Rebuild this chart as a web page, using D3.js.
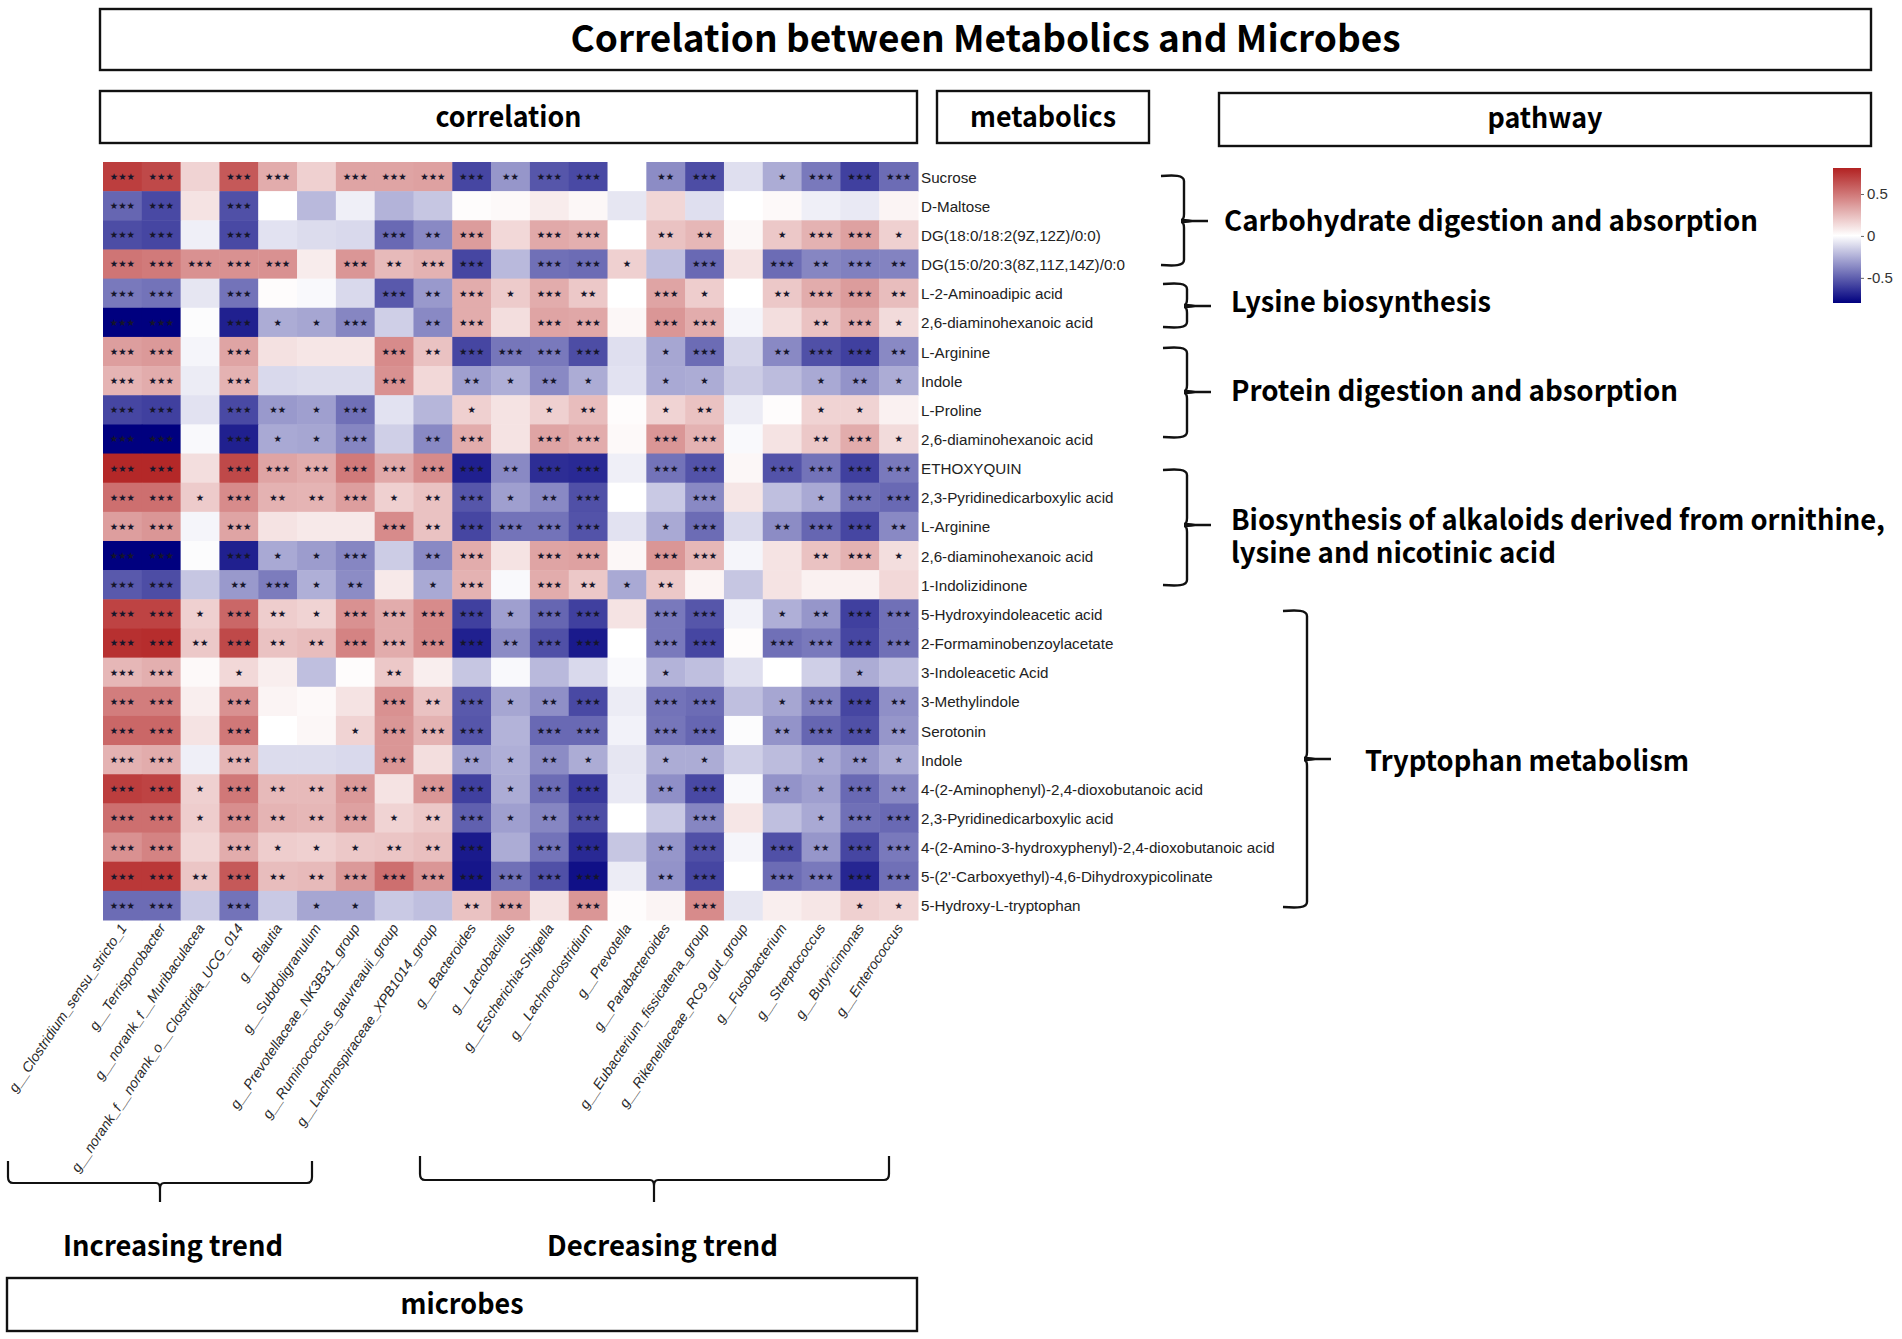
<!DOCTYPE html>
<html><head><meta charset="utf-8">
<script src="https://cdnjs.cloudflare.com/ajax/libs/d3/7.8.5/d3.min.js"></script>
<style>html,body{margin:0;background:#fff}svg{display:block}</style></head><body>
<svg id="c" width="1902" height="1339"></svg>
<script>
const microbes=["g__Clostridium_sensu_stricto_1","g__Terrisporobacter","g__norank_f__Muribaculacea","g__norank_f__norank_o__Clostridia_UCG_014","g__Blautia","g__Subdoligranulum","g__Prevotellaceae_NK3B31_group","g__Ruminococcus_gauvreauii_group","g__Lachnospiraceae_XPB1014_group","g__Bacteroides","g__Lactobacillus","g__Escherichia-Shigella","g__Lachnoclostridium","g__Prevotella","g__Parabacteroides","g__Eubacterium_fissicatena_group","g__Rikenellaceae_RC9_gut_group","g__Fusobacterium","g__Streptococcus","g__Butyricimonas","g__Enterococcus"];
const metabolites=["Sucrose","D-Maltose","DG(18:0/18:2(9Z,12Z)/0:0)","DG(15:0/20:3(8Z,11Z,14Z)/0:0","L-2-Aminoadipic acid","2,6-diaminohexanoic acid","L-Arginine","Indole","L-Proline","2,6-diaminohexanoic acid","ETHOXYQUIN","2,3-Pyridinedicarboxylic acid","L-Arginine","2,6-diaminohexanoic acid","1-Indolizidinone","5-Hydroxyindoleacetic acid","2-Formaminobenzoylacetate","3-Indoleacetic Acid","3-Methylindole","Serotonin","Indole","4-(2-Aminophenyl)-2,4-dioxobutanoic acid","2,3-Pyridinedicarboxylic acid","4-(2-Amino-3-hydroxyphenyl)-2,4-dioxobutanoic acid","5-(2'-Carboxyethyl)-4,6-Dihydroxypicolinate","5-Hydroxy-L-tryptophan"];
const correlation=[
[.70,.66,.16,.60,.30,.17,.33,.33,.34,-.58,-.33,-.53,-.57,0,-.36,-.56,-.10,-.26,-.42,-.60,-.46],
[-.48,-.57,.10,-.55,0,-.22,-.05,-.24,-.18,.01,.02,.07,.03,-.08,.15,-.10,0,.02,-.05,-.07,.04],
[-.56,-.58,-.05,-.57,-.09,-.11,-.12,-.47,-.37,.36,.14,.31,.29,0,.22,.26,.03,.20,.28,.34,.17],
[.50,.48,.40,.40,.40,.07,.38,.25,.28,-.58,-.22,-.45,-.46,.17,-.20,-.47,.10,-.46,-.38,-.40,-.39],
[-.42,-.44,-.08,-.44,.01,-.02,-.12,-.52,-.32,.30,.19,.30,.20,0,.33,.18,0,.20,.30,.36,.24],
[-.80,-.80,-.01,-.70,-.26,-.28,-.38,-.15,-.37,.30,.12,.33,.32,.03,.38,.30,-.03,.12,.22,.30,.13],
[.35,.37,-.03,.33,.11,.09,.09,.42,.22,-.58,-.43,-.42,-.56,-.10,-.28,-.46,-.13,-.37,-.55,-.60,-.37],
[.27,.30,-.06,.28,-.12,-.11,-.11,.40,.14,-.30,-.25,-.37,-.26,-.09,-.27,-.26,-.16,-.21,-.27,-.34,-.26],
[-.58,-.60,-.09,-.57,-.32,-.30,-.45,-.09,-.23,.17,.10,.17,.24,.01,.16,.22,-.06,.01,.16,.16,.05],
[-.80,-.80,-.02,-.70,-.27,-.28,-.38,-.15,-.37,.30,.10,.33,.30,.02,.38,.28,-.02,.10,.20,.30,.13],
[.78,.78,.12,.66,.33,.30,.48,.31,.42,-.70,-.37,-.66,-.67,-.05,-.44,-.54,.03,-.54,-.44,-.60,-.42],
[.52,.52,.19,.42,.28,.27,.35,.17,.22,-.53,-.30,-.37,-.55,0,-.17,-.37,.09,-.20,-.27,-.45,-.47],
[.35,.38,-.03,.33,.10,.08,.08,.42,.22,-.58,-.44,-.44,-.54,-.09,-.27,-.46,-.12,-.36,-.48,-.58,-.37],
[-.80,-.80,-.01,-.70,-.27,-.31,-.38,-.16,-.37,.30,.10,.33,.34,.03,.38,.26,-.03,.10,.22,.28,.12],
[-.52,-.56,-.18,-.32,-.41,-.25,-.36,.08,-.27,.28,-.02,.30,.20,-.27,.20,.04,-.18,.10,.05,.05,.14],
[.68,.68,.17,.55,.18,.16,.40,.30,.42,-.60,-.30,-.48,-.60,.10,-.42,-.53,-.04,-.25,-.33,-.60,-.45],
[.75,.76,.20,.66,.22,.24,.45,.30,.42,-.70,-.36,-.55,-.72,0,-.42,-.58,.01,-.45,-.42,-.58,-.45],
[.26,.29,.02,.14,.06,-.20,.01,.20,.06,-.18,-.02,-.22,-.12,-.02,-.24,-.20,-.10,0,-.15,-.26,-.20],
[.47,.47,.06,.40,.04,.02,.10,.40,.22,-.52,-.28,-.35,-.57,-.06,-.44,-.46,-.20,-.28,-.40,-.58,-.35],
[.55,.55,.10,.49,0,.03,.16,.38,.28,-.53,-.24,-.47,-.47,-.04,-.43,-.48,-.01,-.34,-.48,-.55,-.33],
[.28,.30,-.05,.27,-.11,-.11,-.12,.38,.12,-.30,-.25,-.36,-.26,-.08,-.26,-.26,-.15,-.21,-.27,-.33,-.26],
[.70,.68,.17,.49,.25,.25,.37,.10,.38,-.60,-.26,-.46,-.62,-.07,-.35,-.57,-.02,-.34,-.30,-.47,-.37],
[.52,.52,.18,.41,.27,.26,.34,.16,.20,-.50,-.30,-.38,-.56,0,-.17,-.38,.09,-.20,-.27,-.45,-.47],
[.40,.45,.15,.30,.18,.17,.20,.21,.23,-.72,-.26,-.44,-.67,-.18,-.33,-.55,-.03,-.55,-.33,-.58,-.42],
[.72,.72,.21,.60,.24,.25,.37,.52,.38,-.73,-.45,-.55,-.75,-.06,-.34,-.58,0,-.46,-.42,-.68,-.45],
[-.46,-.46,-.17,-.44,-.17,-.28,-.28,-.17,-.20,.22,.33,.10,.38,.01,.04,.42,-.08,.06,.09,.17,.15]];
const sig=[
[3,3,0,3,3,0,3,3,3,3,2,3,3,0,2,3,0,1,3,3,3],
[3,3,0,3,0,0,0,0,0,0,0,0,0,0,0,0,0,0,0,0,0],
[3,3,0,3,0,0,0,3,2,3,0,3,3,0,2,2,0,1,3,3,1],
[3,3,3,3,3,0,3,2,3,3,0,3,3,1,0,3,0,3,2,3,2],
[3,3,0,3,0,0,0,3,2,3,1,3,2,0,3,1,0,2,3,3,2],
[3,3,0,3,1,1,3,0,2,3,0,3,3,0,3,3,0,0,2,3,1],
[3,3,0,3,0,0,0,3,2,3,3,3,3,0,1,3,0,2,3,3,2],
[3,3,0,3,0,0,0,3,0,2,1,2,1,0,1,1,0,0,1,2,1],
[3,3,0,3,2,1,3,0,0,1,0,1,2,0,1,2,0,0,1,1,0],
[3,3,0,3,1,1,3,0,2,3,0,3,3,0,3,3,0,0,2,3,1],
[3,3,0,3,3,3,3,3,3,3,2,3,3,0,3,3,0,3,3,3,3],
[3,3,1,3,2,2,3,1,2,3,1,2,3,0,0,3,0,0,1,3,3],
[3,3,0,3,0,0,0,3,2,3,3,3,3,0,1,3,0,2,3,3,2],
[3,3,0,3,1,1,3,0,2,3,0,3,3,0,3,3,0,0,2,3,1],
[3,3,0,2,3,1,2,0,1,3,0,3,2,1,2,0,0,0,0,0,0],
[3,3,1,3,2,1,3,3,3,3,1,3,3,0,3,3,0,1,2,3,3],
[3,3,2,3,2,2,3,3,3,3,2,3,3,0,3,3,0,3,3,3,3],
[3,3,0,1,0,0,0,2,0,0,0,0,0,0,1,0,0,0,0,1,0],
[3,3,0,3,0,0,0,3,2,3,1,2,3,0,3,3,0,1,3,3,2],
[3,3,0,3,0,0,1,3,3,3,0,3,3,0,3,3,0,2,3,3,2],
[3,3,0,3,0,0,0,3,0,2,1,2,1,0,1,1,0,0,1,2,1],
[3,3,1,3,2,2,3,0,3,3,1,3,3,0,2,3,0,2,1,3,2],
[3,3,1,3,2,2,3,1,2,3,1,2,3,0,0,3,0,0,1,3,3],
[3,3,0,3,1,1,1,2,2,3,0,3,3,0,2,3,0,3,2,3,3],
[3,3,2,3,2,2,3,3,3,3,3,3,3,0,2,3,0,3,3,3,3],
[3,3,0,3,0,1,1,0,0,2,3,0,3,0,0,3,0,0,0,1,1]];
const legendTicks=[-.5,0,.5];
const boxes=[
{t:"Correlation between Metabolics and Microbes",x0:100,x1:1871,y0:9,y1:70,w:830,fs:37,b:52},
{t:"correlation",x0:100,x1:917,y0:91,y1:143,w:146,fs:28,b:127},
{t:"metabolics",x0:937,x1:1149,y0:91,y1:143,w:146,fs:28,b:127},
{t:"pathway",x0:1219,x1:1871,y0:93,y1:146,w:115,fs:28,b:128},
{t:"microbes",x0:7,x1:917,y0:1278,y1:1331,w:123,fs:28,b:1314}];
const pathTexts=[
{t:"Carbohydrate digestion and absorption",x:1224,b:231,w:534},
{t:"Lysine biosynthesis",x:1231,b:312,w:260},
{t:"Protein digestion and absorption",x:1231,b:401,w:447},
{t:"Biosynthesis of alkaloids derived from ornithine,",x:1231,b:530,w:654},
{t:"lysine and nicotinic acid",x:1231,b:563,w:325},
{t:"Tryptophan metabolism",x:1365,b:771,w:324}];
const trendTexts=[
{t:"Increasing trend",x:63,b:1256,w:220},
{t:"Decreasing trend",x:547,b:1256,w:231}];
const rightBraces=[
{x0:1161,xs:1184,xt:1208,y0:176,ym:221,y1:265},
{x0:1163,xs:1187,xt:1211,y0:284,ym:306,y1:327},
{x0:1163,xs:1187,xt:1211,y0:348,ym:392,y1:437},
{x0:1163,xs:1187,xt:1211,y0:470,ym:525,y1:585},
{x0:1283,xs:1307,xt:1331,y0:611,ym:759,y1:907}];
const bottomBraces=[
{x0:8,xm:160,x1:312,y0:1161,ys:1183,yt:1202},
{x0:420,xm:654,x1:889,y0:1156,ys:1180,yt:1202}];

const svg=d3.select("#c");
const HEAD='"Noto Sans CJK SC","Noto Sans",sans-serif';
const LAB='"Liberation Sans",Arial,sans-serif';
const x=d3.scaleBand().domain(d3.range(microbes.length)).range([103,918]);
const y=d3.scaleBand().domain(d3.range(metabolites.length)).range([162,920]);
const color=d3.scaleLinear().domain([-.8,0,.8]).range(["#00007f","#ffffff","#b22222"]).clamp(true);

const cells=correlation.flatMap((r,i)=>r.map((v,j)=>({i,j,v,s:sig[i][j]})));
svg.append("g").selectAll("rect").data(cells).join("rect")
 .attr("x",d=>x(d.j)).attr("y",d=>y(d.i)).attr("width",x.bandwidth()+.5).attr("height",y.bandwidth()+.5).attr("fill",d=>color(d.v));
svg.append("g").selectAll("text").data(cells.filter(d=>d.s>0)).join("text")
 .attr("x",d=>x(d.j)+x.bandwidth()/2).attr("y",d=>y(d.i)+y.bandwidth()/2+3.4)
 .attr("text-anchor","middle").attr("font-family",'"DejaVu Sans",sans-serif').attr("font-size",9.4).attr("fill","#15152a").text(d=>"★".repeat(d.s));

svg.append("g").selectAll("text").data(metabolites).join("text")
 .attr("x",921).attr("y",(d,i)=>y(i)+y.bandwidth()/2+6).attr("font-family",LAB).attr("font-size",15.2).attr("fill","#222").text(d=>d);
svg.append("g").selectAll("text").data(microbes).join("text")
 .attr("text-anchor","end").attr("font-family",LAB).attr("font-style","italic").attr("font-size",14).attr("fill","#2a2a2a")
 .attr("transform",(d,j)=>`translate(${x(j)+x.bandwidth()/2+5},928) rotate(-56)`).text(d=>d);

const fit=(sel,w)=>sel.attr("textLength",w).attr("lengthAdjust","spacingAndGlyphs");
boxes.forEach(b=>{
 svg.append("rect").attr("x",b.x0).attr("y",b.y0).attr("width",b.x1-b.x0).attr("height",b.y1-b.y0).attr("fill","#fff").attr("stroke","#111").attr("stroke-width",2.4);
 svg.append("text").attr("x",(b.x0+b.x1)/2).attr("y",b.b).attr("text-anchor","middle").attr("font-family",HEAD).attr("font-weight",700).attr("font-size",b.fs).attr("fill","#000").text(b.t).call(fit,b.w);
});
pathTexts.concat(trendTexts).forEach(p=>{
 svg.append("text").attr("x",p.x).attr("y",p.b).attr("font-family",HEAD).attr("font-weight",700).attr("font-size",28).attr("fill","#000").text(p.t).call(fit,p.w);
});
const br=d3.path;
rightBraces.forEach(b=>{
 const p=br();
 p.moveTo(b.x0,b.y0);p.bezierCurveTo(b.xs-10,b.y0-1,b.xs,b.y0-1,b.xs,b.y0+5);
 p.lineTo(b.xs,b.ym-7);p.quadraticCurveTo(b.xs,b.ym-1,b.xs-3,b.ym-1);
 p.quadraticCurveTo(b.xs,b.ym-1,b.xs+8,b.ym);p.lineTo(b.xt,b.ym);
 p.moveTo(b.xs+8,b.ym);p.quadraticCurveTo(b.xs,b.ym+1,b.xs-3,b.ym+1);p.quadraticCurveTo(b.xs,b.ym+1,b.xs,b.ym+7);p.lineTo(b.xs,b.y1-5);
 p.bezierCurveTo(b.xs,b.y1+1,b.xs-10,b.y1+1,b.x0,b.y1);
 svg.append("path").attr("d",p.toString()).attr("fill","none").attr("stroke","#111").attr("stroke-width",2.4);
});
bottomBraces.forEach(b=>{
 const p=br();
 p.moveTo(b.x0,b.y0);p.lineTo(b.x0,b.ys-6);p.quadraticCurveTo(b.x0,b.ys,b.x0+5,b.ys);
 p.lineTo(b.xm-4,b.ys);p.quadraticCurveTo(b.xm,b.ys,b.xm,b.ys+6);p.lineTo(b.xm,b.yt);
 p.moveTo(b.xm,b.ys+6);p.quadraticCurveTo(b.xm,b.ys,b.xm+4,b.ys);p.lineTo(b.x1-5,b.ys);
 p.quadraticCurveTo(b.x1,b.ys,b.x1,b.ys-6);p.lineTo(b.x1,b.y0);
 svg.append("path").attr("d",p.toString()).attr("fill","none").attr("stroke","#111").attr("stroke-width",2.2);
});

// colour key
const ly=d3.scaleLinear().domain([-.8,.81]).range([303,168]);
const defs=svg.append("defs").append("linearGradient").attr("id","key").attr("x1",0).attr("x2",0).attr("y1",1).attr("y2",0);
d3.range(0,1.001,.05).forEach(t=>defs.append("stop").attr("offset",t).attr("stop-color",color(-.8+1.6*t)));
svg.append("rect").attr("x",1833).attr("y",168).attr("width",28).attr("height",135).attr("fill","url(#key)");
const ax=d3.axisRight(ly).tickValues(legendTicks).tickFormat(d=>d===0?"0":String(d)).tickSize(3);
const g=svg.append("g").attr("transform","translate(1861,0)").call(ax);
g.select(".domain").remove();
g.selectAll("line").attr("stroke","#666");
g.selectAll("text").attr("font-family",LAB).attr("font-size",15).attr("fill","#333");
</script></body></html>
